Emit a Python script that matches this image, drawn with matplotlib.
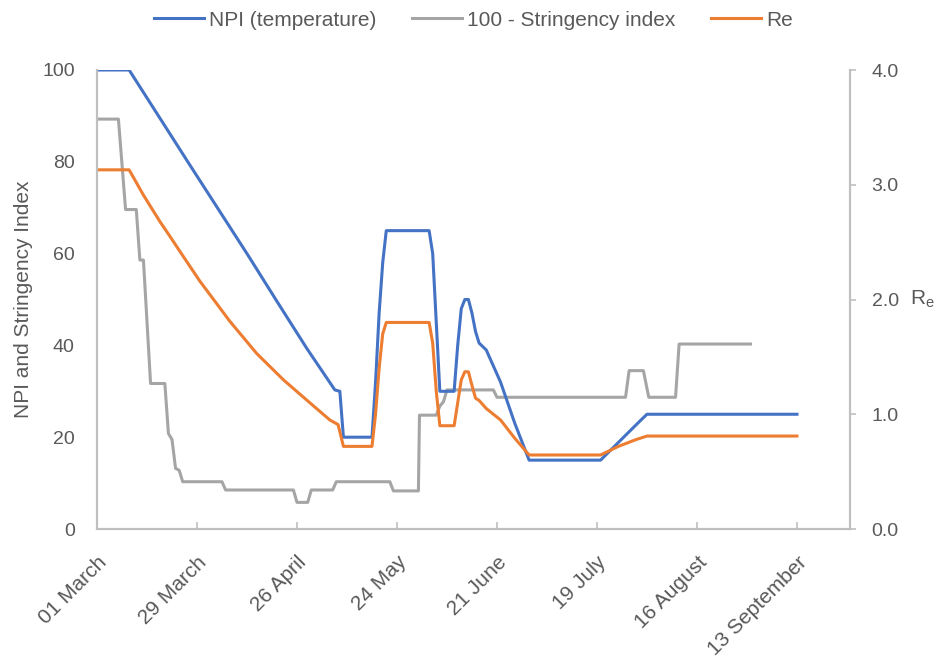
import matplotlib
matplotlib.use("Agg")
import matplotlib.pyplot as plt
from matplotlib.ticker import FormatStrFormatter
from matplotlib.transforms import ScaledTranslation
import pandas as pd

plt.rcParams['font.family'] = ['Liberation Sans', 'DejaVu Sans']
plt.rcParams['mathtext.fontset'] = 'custom'
plt.rcParams['mathtext.rm'] = 'Liberation Sans'
plt.rcParams['mathtext.it'] = 'Liberation Sans'

# ---- data (days since 01 March 2020, values) ----
npi_days = [0, 9, 26, 42.4, 50.3, 58.7, 66.6, 68, 69, 77, 78, 79, 80, 81, 93, 94, 95, 96,
            100, 101, 102, 103, 104, 105, 106, 107, 109, 113, 117, 121, 141, 152, 154, 196]
npi_vals = [100, 100, 79.3, 59.5, 49.7, 39.4, 30.3, 30, 20, 20, 32, 47, 58, 65, 65, 60, 45, 30,
            30, 40, 48, 50, 50, 47, 43, 40.5, 39, 32, 23, 15, 15, 23.5, 25, 25]

str_days = [0, 6, 8, 11, 12, 13, 15, 19, 20, 21, 22, 23, 24, 35, 36, 55, 56, 59, 60, 66, 67,
            82, 83, 90, 90.3, 95, 96, 97, 98, 111, 112, 148, 149, 153, 154.5, 162, 163, 183]
str_vals = [89.3, 89.3, 69.6, 69.6, 58.6, 58.6, 31.7, 31.7, 20.8, 19.5, 13.2, 12.8, 10.3, 10.3,
            8.5, 8.5, 5.8, 5.8, 8.5, 8.5, 10.3, 10.3, 8.3, 8.3, 24.8, 24.8, 26.8, 27.7, 30.3,
            30.3, 28.7, 28.7, 34.5, 34.5, 28.7, 28.7, 40.3, 40.3]

re_days = [0, 9, 13.0, 17.6, 20.0, 23.2, 28.8, 37.2, 44.7, 52.2, 59.6, 65.2, 67.5, 69, 77, 78,
           79, 80, 81, 93, 94, 95, 96, 100, 101, 102, 103, 104, 105, 106, 107, 109, 113, 117,
           121, 141, 146, 151, 154, 196]
re_vals = [3.13, 3.13, 2.91, 2.68, 2.57, 2.42, 2.16, 1.81, 1.53, 1.30, 1.10, 0.95, 0.91, 0.72,
           0.72, 1.0, 1.4, 1.7, 1.8, 1.8, 1.62, 1.2, 0.90, 0.90, 1.10, 1.30, 1.37, 1.37, 1.25,
           1.14, 1.12, 1.05, 0.95, 0.79, 0.645, 0.645, 0.72, 0.78, 0.81, 0.81]

tick_labels = ["01 March", "29 March", "26 April", "24 May", "21 June", "19 July",
               "16 August", "13 September"]
series_names = ["NPI (temperature)", "100 - Stringency index", "Re"]

base = pd.Timestamp("2020-03-01")
def to_dates(days):
    return [base + pd.Timedelta(days=d) for d in days]

BLUE = "#4472C4"
GRAY = "#A5A5A5"
ORANGE = "#ED7D31"
SPINE = "#BFBFBF"
TXT = "#595959"

fig = plt.figure(figsize=(9.37, 6.57), dpi=100)
ax = fig.add_axes([97/937, 1-529/657, 753/937, 459/657])
ax2 = ax.twinx()

lw = 2.2
l1, = ax.plot(to_dates(npi_days), npi_vals, color=BLUE, lw=lw, solid_joinstyle='round', zorder=3)
l2, = ax.plot(to_dates(str_days), str_vals, color=GRAY, lw=lw, solid_joinstyle='round', zorder=2)
l3, = ax2.plot(to_dates(re_days), re_vals, color=ORANGE, lw=lw, solid_joinstyle='round')

ax.set_ylim(0, 100)
ax2.set_ylim(0, 4)
ax.set_xlim(base, base + pd.Timedelta(days=210.85))

ticks = to_dates([28 * i for i in range(len(tick_labels))])
ax.set_xticks(ticks)
ax.set_xticklabels(tick_labels, rotation=45, ha='right', rotation_mode='anchor', color=TXT,
                   fontsize=15)
for lab in ax.get_xticklabels():
    lab.set_transform(lab.get_transform() + ScaledTranslation(-7/100, 0, fig.dpi_scale_trans))
ax.set_yticks([0, 20, 40, 60, 80, 100])
ax2.set_yticks([0, 1, 2, 3, 4])
ax2.yaxis.set_major_formatter(FormatStrFormatter('%.1f'))

for a in (ax, ax2):
    a.spines['top'].set_visible(False)
    for s in ('left', 'right', 'bottom'):
        a.spines[s].set_color(SPINE)
        a.spines[s].set_linewidth(1.5)

ax.tick_params(axis='x', direction='in', length=5, width=1.2, color=SPINE, pad=17)
ax.tick_params(axis='y', length=0, labelsize=14, labelcolor=TXT, pad=16)
ax2.tick_params(axis='y', direction='out', length=4, width=1.2, color=SPINE, labelsize=14,
                labelcolor=TXT, pad=11.5)

ax.set_ylabel("NPI and Stringency Index", fontsize=15, color=TXT)
ax.yaxis.set_label_coords(-0.085, 0.5)
ax2.set_ylabel(r"R$_{\mathrm{e}}$", fontsize=15, color=TXT, rotation=0, ha='left', va='center')
ax2.yaxis.set_label_coords(1.0797, 0.5)

fig.legend([l1, l2, l3], series_names, loc='center', bbox_to_anchor=(473.5/937, 1-20/657),
           ncol=3, frameon=False, fontsize=15, handlelength=2.4, handletextpad=0.25,
           columnspacing=1.7, labelcolor=TXT)

fig.savefig("out.png", dpi=100)
